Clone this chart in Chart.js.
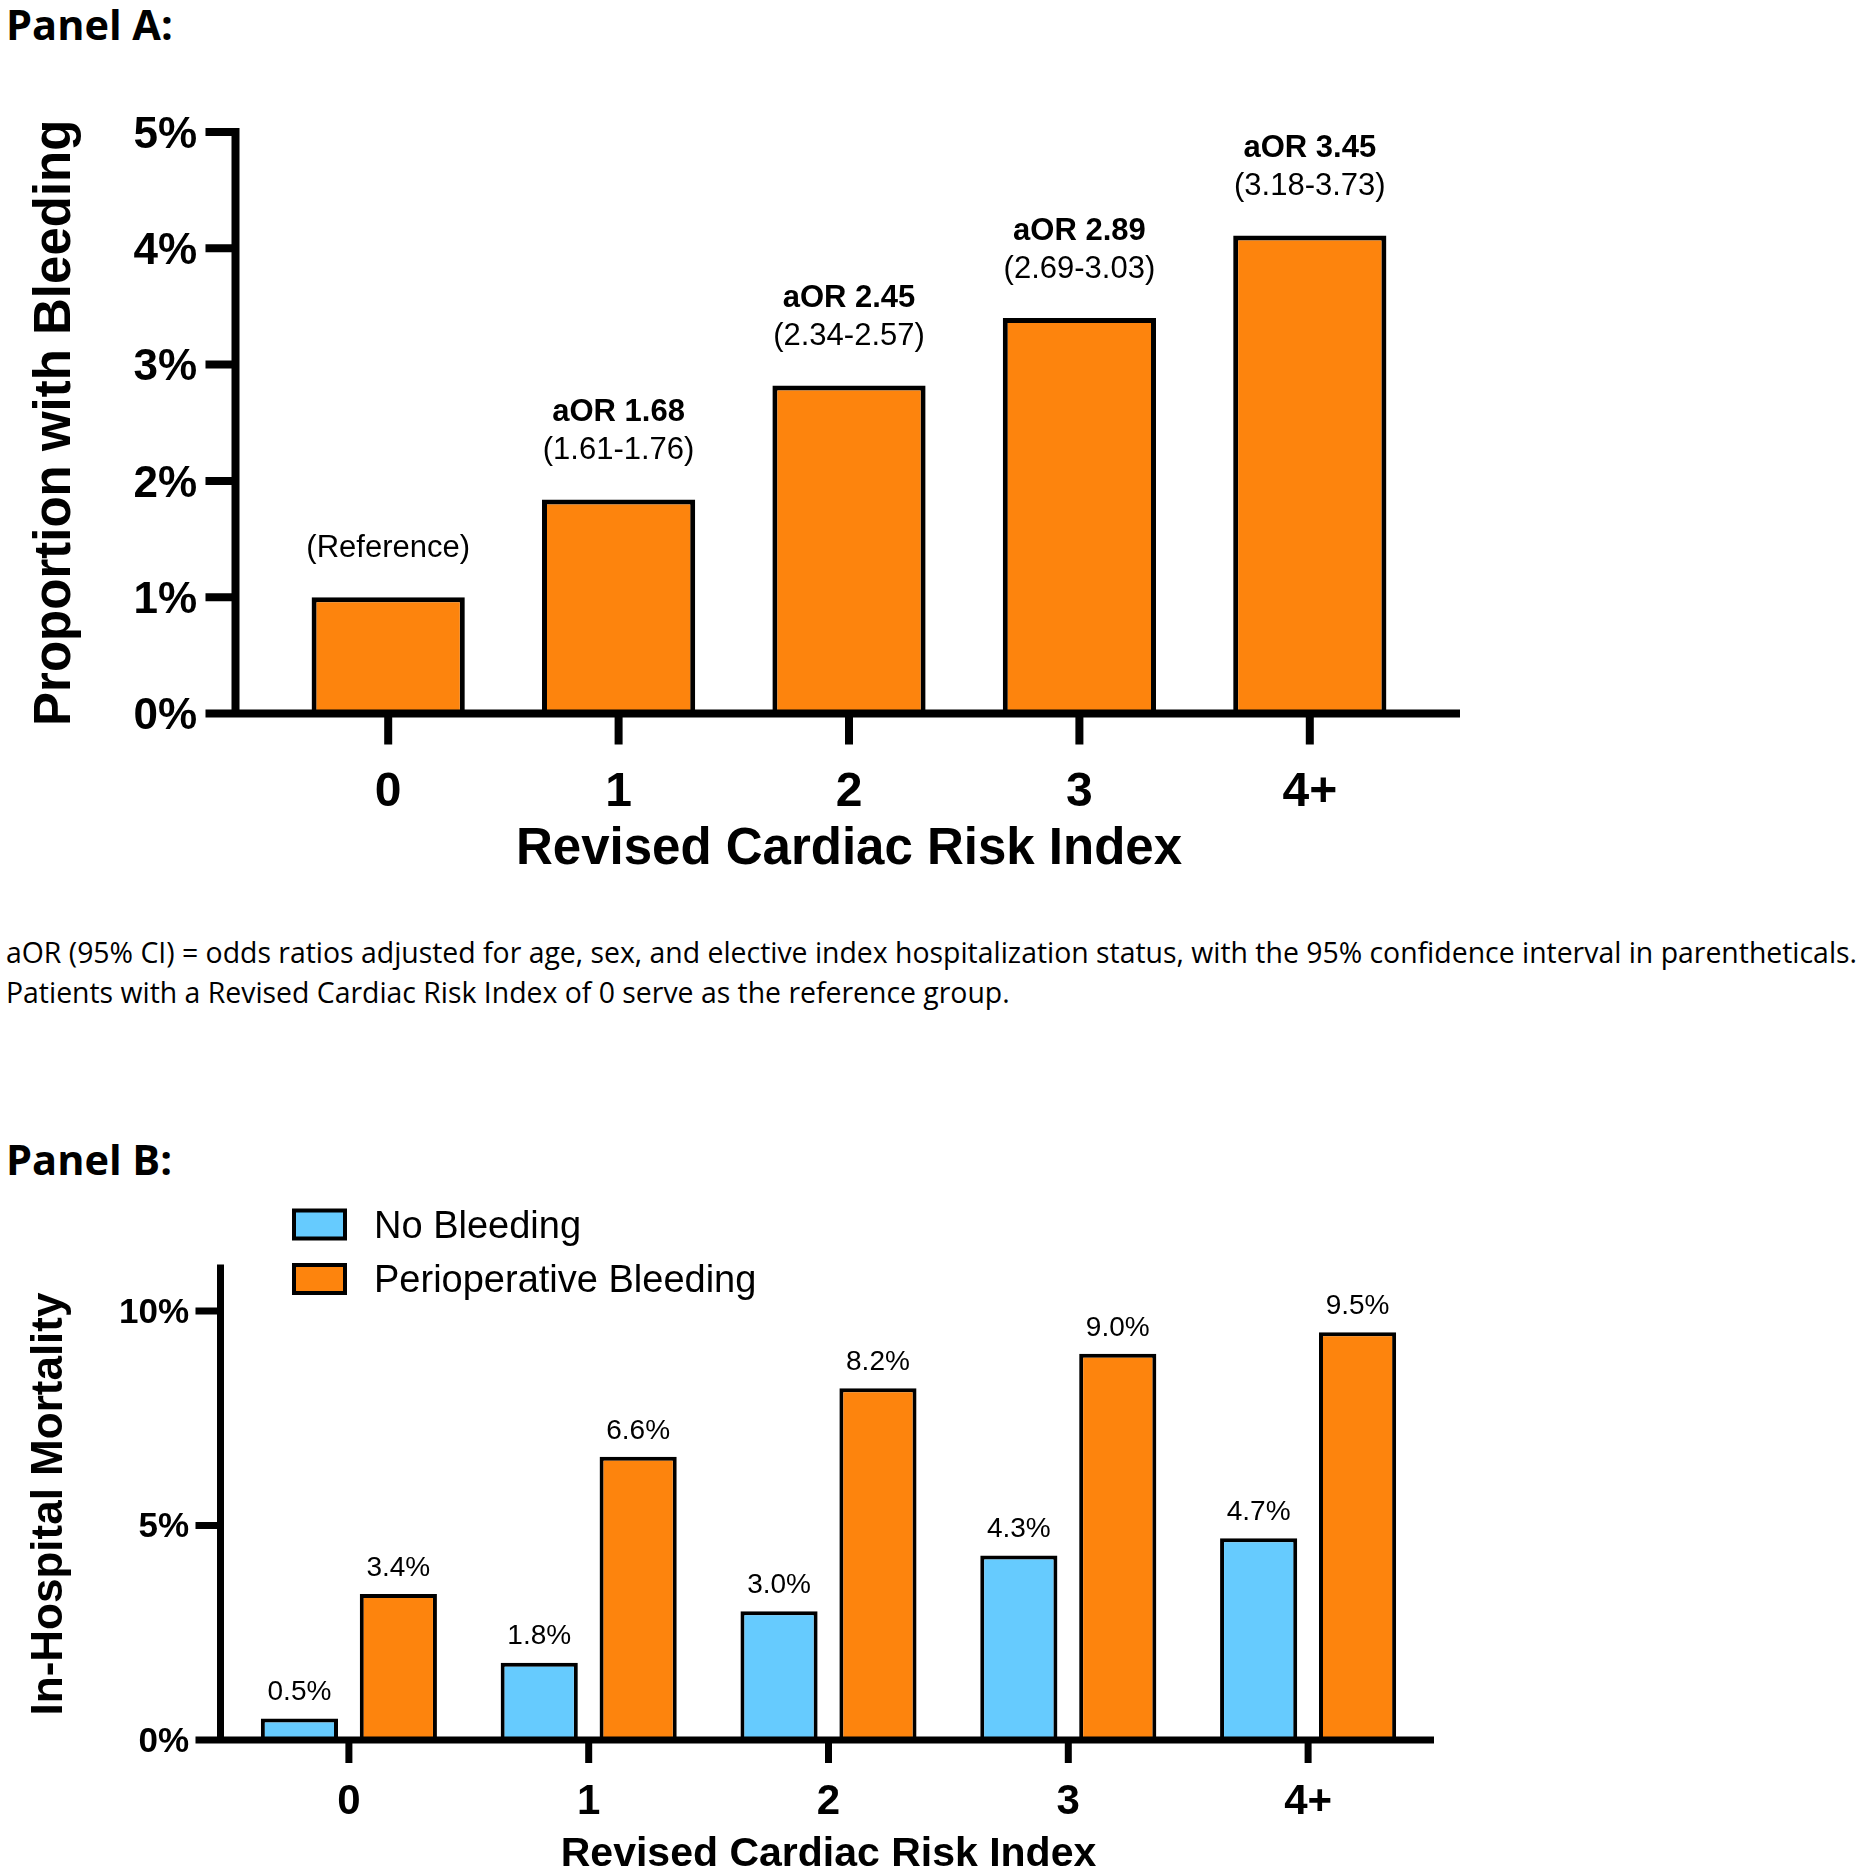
<!DOCTYPE html>
<html>
<head>
<meta charset="utf-8">
<script src="https://cdn.jsdelivr.net/npm/chart.js@4.4.1/dist/chart.umd.min.js"></script>
<style>
  html, body { margin: 0; padding: 0; background: #fff; overflow: hidden; }
  body { width: 1859px; height: 1873px; position: relative; font-family: "Open Sans", sans-serif; color: #000; }
  .panel { position: absolute; left: 6px; font-weight: bold; font-size: 41.5px; line-height: 48px; }
  .note { position: absolute; left: 6px; top: 932px; font-size: 28.4px; line-height: 40px; white-space: nowrap; }
  canvas { position: absolute; left: 0; }
</style>
</head>
<body>
<div class="panel" style="top:0px">Panel A:</div>
<canvas id="chartA" width="1859" height="900" style="top:0px"></canvas>
<div class="note">aOR (95% CI) = odds ratios adjusted for age, sex, and elective index hospitalization status, with the 95% confidence interval in parentheticals.<br>Patients with a Revised Cardiac Risk Index of 0 serve as the reference group.</div>
<div class="panel" style="top:1135px">Panel B:</div>
<canvas id="chartB" width="1859" height="800" style="top:1100px"></canvas>
<script>
// DATA
const riskGroups = ["0", "1", "2", "3", "4+"];

// panel A
const bleedPct = [1.0, 1.84, 2.82, 3.4, 4.11];
const aorText = ["", "aOR 1.68", "aOR 2.45", "aOR 2.89", "aOR 3.45"];
const ciText = ["(Reference)", "(1.61-1.76)", "(2.34-2.57)", "(2.69-3.03)", "(3.18-3.73)"];
const bleedTicks = [0, 1, 2, 3, 4, 5];

// panel B
const noBleedMort = [0.5, 1.8, 3.0, 4.3, 4.7];
const periopMort = [3.4, 6.6, 8.2, 9.0, 9.5];
const mortTicks = [0, 5, 10];

const ORANGE = "#FD840D";
const BLUE = "#66CBFE";
const FONT = "'Liberation Sans', Arial, Helvetica, sans-serif";

Chart.defaults.font.family = FONT;
Chart.defaults.color = "#000";

// axis lines + tick marks drawn like the original (thick, axis offset from bars)
const axisLines = {
  id: "axisLines",
  afterDatasetsDraw(chart, args, o) {
    const { ctx, chartArea, scales } = chart;
    const ax = chartArea.left - o.gap;
    const y0 = scales.y.getPixelForValue(0);
    ctx.save();
    ctx.strokeStyle = "#000";
    ctx.lineWidth = o.width;
    ctx.beginPath();
    ctx.moveTo(ax, scales.y.getPixelForValue(scales.y.max) - o.width / 2);
    ctx.lineTo(ax, y0 + o.width / 2);
    ctx.moveTo(ax - o.tickLen, y0);
    ctx.lineTo(chartArea.right + o.extend, y0);
    scales.y.ticks.forEach((t) => {
      const y = scales.y.getPixelForValue(t.value);
      ctx.moveTo(ax - o.tickLen, y);
      ctx.lineTo(ax, y);
    });
    scales.x.ticks.forEach((t, i) => {
      const x = scales.x.getPixelForTick(i);
      ctx.moveTo(x, y0);
      ctx.lineTo(x, y0 + o.xTickLen);
    });
    ctx.stroke();
    ctx.restore();
  },
};

// aOR notes above panel A bars
const notesA = {
  id: "notesA",
  afterDatasetsDraw(chart) {
    const { ctx } = chart;
    const bars = chart.getDatasetMeta(0).data;
    ctx.save();
    ctx.fillStyle = "#000";
    ctx.textAlign = "center";
    ctx.textBaseline = "middle";
    bars.forEach((bar, i) => {
      if (aorText[i]) {
        ctx.font = "bold 31px " + FONT;
        ctx.fillText(aorText[i], bar.x, bar.y - 87);
      }
      ctx.font = "31px " + FONT;
      ctx.fillText(ciText[i], bar.x, bar.y - 49);
    });
    ctx.restore();
  },
};

// value labels for panel B
const valuesB = {
  id: "valuesB",
  afterDatasetsDraw(chart) {
    const { ctx } = chart;
    ctx.save();
    ctx.fillStyle = "#000";
    ctx.textAlign = "center";
    ctx.textBaseline = "middle";
    ctx.font = "28px " + FONT;
    chart.data.datasets.forEach((ds, d) => {
      chart.getDatasetMeta(d).data.forEach((bar, i) => {
        ctx.fillText(ds.data[i].toFixed(1) + "%", bar.x, bar.y - 26);
      });
    });
    ctx.restore();
  },
};

// stacked legend top-left of panel B
const legendB = {
  id: "legendB",
  afterDraw(chart) {
    const { ctx } = chart;
    ctx.save();
    chart.data.datasets.forEach((ds, i) => {
      const cy = 124.5 + i * 54.5;
      ctx.fillStyle = ds.backgroundColor;
      ctx.fillRect(294, cy - 14, 51, 28);
      ctx.lineWidth = 4;
      ctx.strokeStyle = "#000";
      ctx.strokeRect(294, cy - 14, 51, 28);
      ctx.fillStyle = "#000";
      ctx.font = "38px " + FONT;
      ctx.textAlign = "left";
      ctx.textBaseline = "middle";
      ctx.fillText(ds.label, 374, cy + 3);
    });
    ctx.restore();
  },
};

// PANEL A
new Chart(document.getElementById("chartA"), {
  type: "bar",
  data: {
    labels: riskGroups,
    datasets: [
      {
        label: "Proportion with Bleeding",
        data: bleedPct,
        backgroundColor: ORANGE,
        borderColor: "#000",
        borderWidth: 5,
        categoryPercentage: 1,
        barPercentage: 0.665,
      },
    ],
  },
  options: {
    responsive: false,
    animation: false,
    layout: { padding: { left: 0, top: 132, right: 434, bottom: 16.5 } },
    plugins: {
      legend: { display: false },
      tooltip: { enabled: false },
      axisLines: { gap: 37.5, width: 8, tickLen: 30, extend: 35, xTickLen: 31 },
    },
    scales: {
      x: {
        grid: { display: false, drawTicks: false },
        border: { display: false },
        ticks: { padding: 50, font: { size: 48, weight: "bold" } },
        title: {
          display: true,
          text: "Revised Cardiac Risk Index",
          font: { size: 51, weight: "bold" },
          padding: { top: 0, bottom: 3.4 },
        },
        afterFit: (s) => { s.height = 170; },
      },
      y: {
        min: 0,
        max: 5,
        afterBuildTicks: (s) => { s.ticks = bleedTicks.map((v) => ({ value: v })); },
        grid: { display: false, drawTicks: false },
        border: { display: false },
        ticks: {
          padding: 76,
          labelOffset: 3.5,
          font: { size: 44, weight: "bold" },
          callback: (v) => v + "%",
        },
        title: {
          display: true,
          text: "Proportion with Bleeding",
          font: { size: 51, weight: "bold" },
          padding: { top: 25.4, bottom: 0 },
        },
        afterFit: (s) => { s.width = 273; },
      },
    },
  },
  plugins: [axisLines, notesA],
});

// PANEL B
new Chart(document.getElementById("chartB"), {
  type: "bar",
  data: {
    labels: riskGroups,
    datasets: [
      {
        label: "No Bleeding",
        data: noBleedMort,
        backgroundColor: BLUE,
        borderColor: "#000",
        borderWidth: 4,
        categoryPercentage: 0.825,
        barPercentage: 0.78,
      },
      {
        label: "Perioperative Bleeding",
        data: periopMort,
        backgroundColor: ORANGE,
        borderColor: "#000",
        borderWidth: 4,
        categoryPercentage: 0.825,
        barPercentage: 0.78,
      },
    ],
  },
  options: {
    responsive: false,
    animation: false,
    layout: { padding: { left: 0, top: 168, right: 431, bottom: 0 } },
    plugins: {
      legend: { display: false },
      tooltip: { enabled: false },
      axisLines: { gap: 8.5, width: 7, tickLen: 25, extend: 6, xTickLen: 23 },
    },
    scales: {
      x: {
        grid: { display: false, drawTicks: false },
        border: { display: false },
        ticks: { padding: 37.5, font: { size: 42, weight: "bold" } },
        title: {
          display: true,
          text: "Revised Cardiac Risk Index",
          font: { size: 41, weight: "bold" },
          padding: { top: 0, bottom: 21 },
        },
        afterFit: (s) => { s.height = 160; },
      },
      y: {
        min: 0,
        max: 11,
        afterBuildTicks: (s) => { s.ticks = mortTicks.map((v) => ({ value: v })); },
        grid: { display: false, drawTicks: false },
        border: { display: false },
        ticks: {
          padding: 40,
          labelOffset: 2,
          font: { size: 35, weight: "bold" },
          callback: (v) => v + "%",
        },
        title: {
          display: true,
          text: "In-Hospital Mortality",
          font: { size: 44, weight: "bold" },
          padding: { top: 23.4, bottom: 0 },
        },
        afterFit: (s) => { s.width = 229; },
      },
    },
  },
  plugins: [axisLines, valuesB, legendB],
});
</script>
</body>
</html>
